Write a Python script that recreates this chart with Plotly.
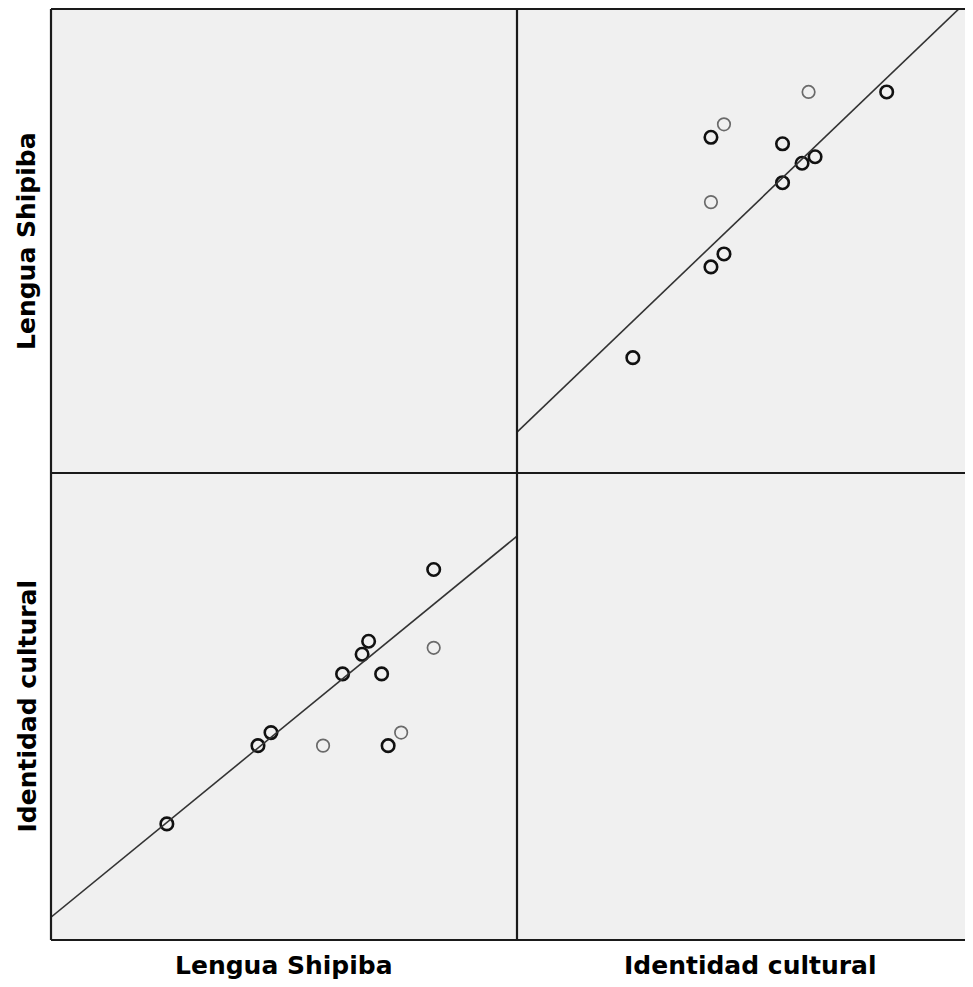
import plotly.graph_objects as go

# ---- data ----
variables = ["Lengua Shipiba", "Identidad cultural"]
lengua_shipiba = [40, 54, 56, 64, 67, 70, 71, 73, 74, 76, 81, 81]
identidad_cultural = [40, 52, 54, 52, 63, 66, 68, 63, 52, 54, 79, 67]
case_counts = [2, 2, 2, 1, 2, 2, 2, 2, 2, 1, 2, 1]
# fit lines
fit_id_on_ls = (7.58, 0.816)   # intercept, slope : ID = a + b*LS
fit_ls_on_id = (7.15, 0.962)   # LS = a + b*ID

# page has an 8px body margin
OFF = 8
W, H = 973 - OFF, 987 - OFF
# geometry in page pixels
L, M, R = 51, 517, 973
T, MY, B = 9, 473, 940
full_range = [22.2, 93.8]
cell_w = M - L
right_range = [full_range[0], full_range[0] + (full_range[1] - full_range[0]) * (R - M) / cell_w]

def px(x):
    return (x - OFF) / W

def py(y):
    return 1 - (y - OFF) / H

mline_color = ["#111111" if c > 1 else "#6a6a6a" for c in case_counts]
mline_width = [2.6 if c > 1 else 1.7 for c in case_counts]

fig = go.Figure()

# lower-left: x = Lengua Shipiba, y = Identidad cultural
fig.add_trace(go.Scatter(
    x=lengua_shipiba, y=identidad_cultural, mode="markers", xaxis="x", yaxis="y",
    marker=dict(symbol="circle-open", size=12.5, color=mline_color,
                line=dict(color=mline_color, width=mline_width)),
    showlegend=False, hoverinfo="skip"))
a, b = fit_id_on_ls
fig.add_trace(go.Scatter(
    x=full_range, y=[a + b * v for v in full_range], mode="lines", xaxis="x", yaxis="y",
    line=dict(color="#333333", width=1.6), showlegend=False, hoverinfo="skip"))

# upper-right: x = Identidad cultural, y = Lengua Shipiba
fig.add_trace(go.Scatter(
    x=identidad_cultural, y=lengua_shipiba, mode="markers", xaxis="x2", yaxis="y2",
    marker=dict(symbol="circle-open", size=12.5, color=mline_color,
                line=dict(color=mline_color, width=mline_width)),
    showlegend=False, hoverinfo="skip"))
a, b = fit_ls_on_id
fig.add_trace(go.Scatter(
    x=right_range, y=[a + b * v for v in right_range], mode="lines", xaxis="x2", yaxis="y2",
    line=dict(color="#333333", width=1.6), showlegend=False, hoverinfo="skip"))

ax = dict(showticklabels=False, showgrid=False, zeroline=False, showline=False,
          ticks="", fixedrange=True)

fig.update_layout(
    width=W, height=H,
    margin=dict(l=0, r=0, t=0, b=0),
    paper_bgcolor="white", plot_bgcolor="#f0f0f0",
    xaxis=dict(domain=[px(L), px(M)], range=full_range, anchor="y", **ax),
    yaxis=dict(domain=[py(B), py(MY)], range=full_range, anchor="x", **ax),
    xaxis2=dict(domain=[px(M), px(R)], range=right_range, anchor="y2", **ax),
    yaxis2=dict(domain=[py(MY), py(T)], range=full_range, anchor="x2", **ax),
)

# background and frame
shapes = [dict(type="rect", xref="paper", yref="paper", x0=px(L), x1=px(R), y0=py(B), y1=py(T),
               fillcolor="#f0f0f0", line=dict(width=0), layer="below")]
frame = dict(color="#1a1a1a", width=2.2)
for yy in (T, MY, B):
    shapes.append(dict(type="line", xref="paper", yref="paper", x0=px(L), x1=px(R) + 0.01,
                       y0=py(yy), y1=py(yy), line=frame))
for xx in (L, M):
    shapes.append(dict(type="line", xref="paper", yref="paper", x0=px(xx), x1=px(xx),
                       y0=py(B), y1=py(T), line=frame))
fig.update_layout(shapes=shapes)

font = dict(family="DejaVu Sans", size=25, color="black")
ann = []
centers_x = [(L + M) / 2, (M + M + cell_w) / 2]
for name, cx in zip(variables, centers_x):
    ann.append(dict(text="<b>%s</b>" % name, xref="paper", yref="paper", x=px(cx), y=py(965),
                    xanchor="center", yanchor="middle", showarrow=False, font=font))
centers_y = [(T + MY) / 2, (MY + B) / 2]
for name, cy in zip(variables, centers_y):
    ann.append(dict(text="<b>%s</b>" % name, xref="paper", yref="paper", x=px(27), y=py(cy),
                    xanchor="center", yanchor="middle", showarrow=False, textangle=-90, font=font))
fig.update_layout(annotations=ann)

fig.write_html("out.html")
